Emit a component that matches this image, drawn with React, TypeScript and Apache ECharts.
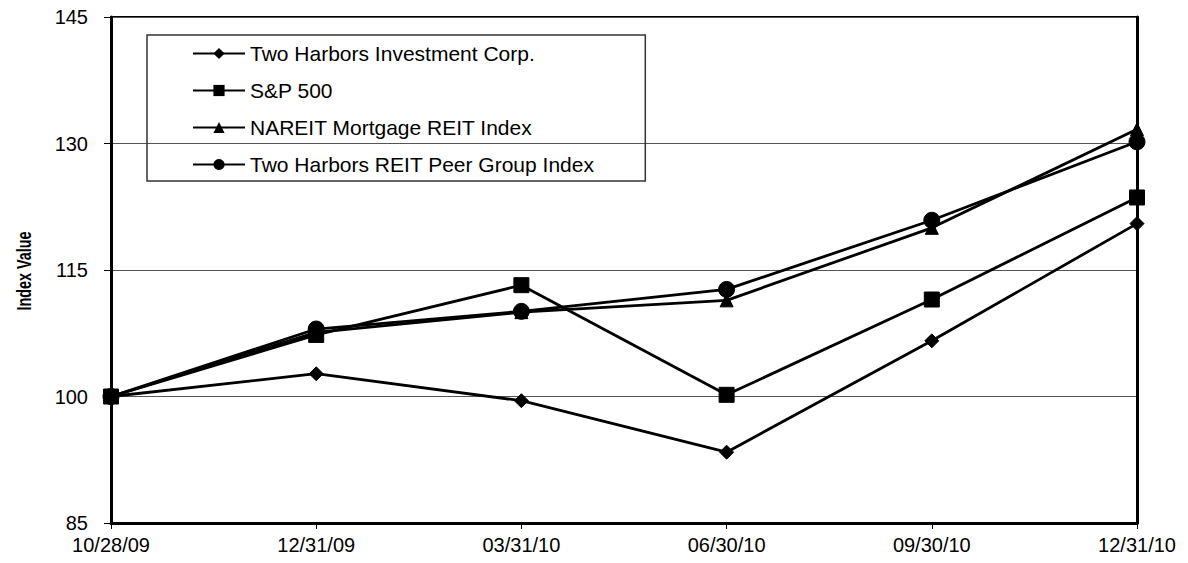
import React, { useEffect, useRef } from "react";
import * as echarts from "echarts";

const categories = ["10/28/09", "12/31/09", "03/31/10", "06/30/10", "09/30/10", "12/31/10"];
const twoHarbors = [100, 102.7, 99.5, 93.4, 106.6, 120.5];
const sp500 = [100, 107.3, 113.2, 100.2, 111.5, 123.6];
const nareit = [100, 107.6, 110.0, 111.4, 120.0, 131.7];
const peerGroup = [100, 108.0, 110.1, 112.7, 120.9, 130.2];
const seriesNames = [
  "Two Harbors Investment Corp.",
  "S&P 500",
  "NAREIT Mortgage REIT Index",
  "Two Harbors REIT Peer Group Index",
];
const yAxisTitle = "Index Value";
const yMin = 85;
const yMax = 145;
const yInterval = 15;

const FONT = "'Liberation Sans', Arial, sans-serif";

export default function App() {
  const ref = useRef<HTMLDivElement>(null);
  useEffect(() => {
    if (!ref.current) return;
    const chart = echarts.init(ref.current, null, { renderer: "svg" });
    const mk = (name: string, data: number[], symbol: string, size: number) => ({
      name,
      type: "line",
      data,
      symbol,
      symbolSize: size,
      showSymbol: true,
      lineStyle: { color: "#000", width: 2.8 },
      itemStyle: { color: "#000", borderColor: "#000" },
      emphasis: { disabled: true },
    });
    chart.setOption({
      animation: false,
      backgroundColor: "#fff",
      textStyle: { fontFamily: FONT },
      grid: {
        left: 111,
        right: 51,
        top: 17,
        bottom: 40,
        show: true,
        borderColor: "#000",
        borderWidth: 2,
      },
      graphic: [
        {
          type: "text",
          x: 24,
          y: 271,
          rotation: Math.PI / 2,
          scaleX: 0.72,
          style: {
            text: yAxisTitle,
            font: "bold 20px 'Liberation Sans', Arial, sans-serif",
            fill: "#000",
            align: "center",
            verticalAlign: "middle",
          },
        },
      ],
      legend: {
        orient: "vertical",
        left: 147,
        top: 35,
        padding: [8, 51, 6, 45],
        itemWidth: 52,
        itemHeight: 14,
        itemGap: 16,
        borderColor: "#333",
        borderWidth: 1.5,
        textStyle: { fontFamily: FONT, fontSize: 21, color: "#000" },
        data: seriesNames,
      },
      xAxis: {
        type: "category",
        data: categories,
        boundaryGap: false,
        axisLine: { show: true, lineStyle: { color: "#000", width: 3 } },
        axisTick: { show: true, alignWithLabel: true, length: 6, lineStyle: { color: "#000", width: 1 } },
        axisLabel: { color: "#000", fontSize: 20, fontFamily: FONT, margin: 12 },
        splitLine: { show: false },
      },
      yAxis: [
        {
          type: "value",
          min: yMin,
          max: yMax,
          interval: yInterval,
          axisLine: { show: true, lineStyle: { color: "#000", width: 3 } },
          axisTick: { show: true, length: 7, lineStyle: { color: "#000", width: 1 } },
          axisLabel: { color: "#000", fontSize: 20, fontFamily: FONT, margin: 23 },
          splitLine: { show: true, lineStyle: { color: "#555", width: 1.2 } },
        },
        {
          type: "value",
          min: yMin,
          max: yMax,
          interval: yInterval,
          position: "right",
          axisLine: { show: true, lineStyle: { color: "#000", width: 3 } },
          axisTick: { show: false },
          axisLabel: { show: false },
          splitLine: { show: false },
        },
      ],
      series: [
        mk(seriesNames[0], twoHarbors, "diamond", 14),
        mk(seriesNames[1], sp500, "rect", 15),
        mk(seriesNames[2], nareit, "triangle", 13),
        mk(seriesNames[3], peerGroup, "circle", 16),
      ],
    });
    return () => chart.dispose();
  }, []);
  return <div ref={ref} style={{ width: 1188, height: 563, position: "absolute", left: 0, top: 0 }} />;
}
